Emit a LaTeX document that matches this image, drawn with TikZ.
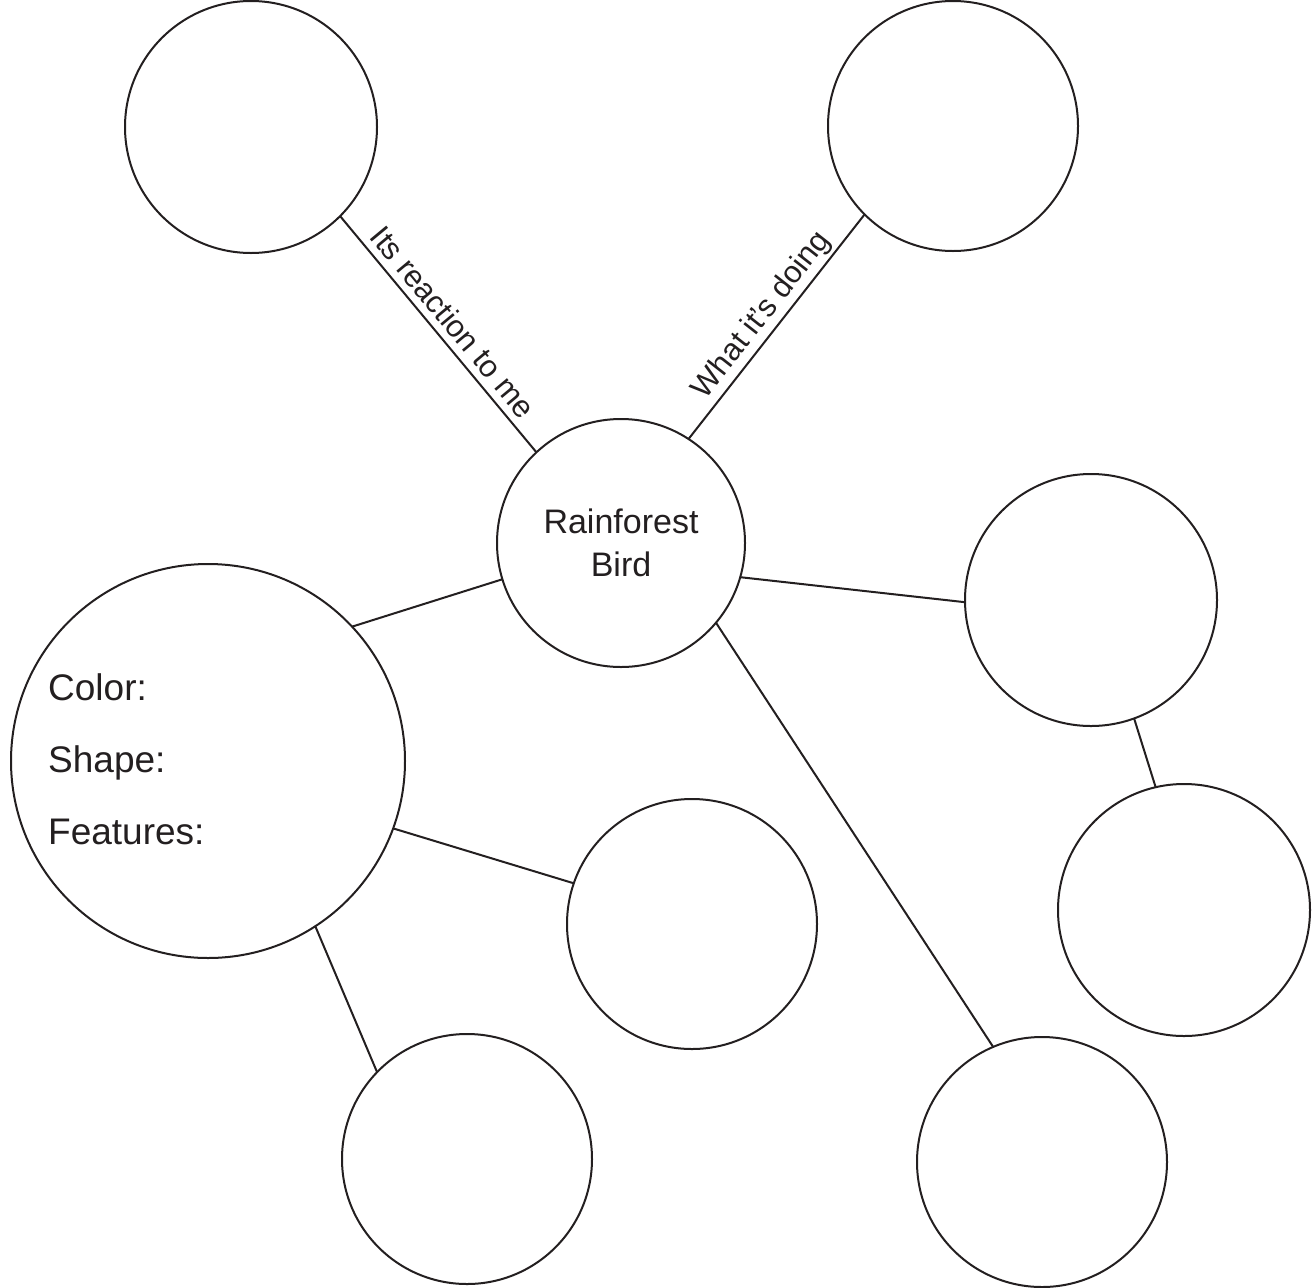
\documentclass[tikz,border=0pt]{standalone}
\usepackage{fontspec}
\setmainfont{Liberation Sans}
\definecolor{ink}{HTML}{231F20}
\begin{document}
\begin{tikzpicture}[x=1pt,y=-1pt,
  bubble/.style={circle,draw=ink,line width=2pt,inner sep=0pt,outer sep=0pt,minimum size=#1},
  link/.style={draw=ink,line width=2pt},
  lbl/.style={font=\fontsize{31}{38}\selectfont,text=ink,sloped,inner sep=3pt},
  bigtxt/.style={font=\fontsize{37}{44}\selectfont,text=ink,anchor=base west,inner sep=0pt}]
\useasboundingbox (0,0) rectangle (1315,1288);
\node[bubble=252pt] (tl) at (251,127) {};
\node[bubble=250pt] (tr) at (953,126) {};
\node[bubble=248pt,align=center,font=\fontsize{34}{43}\selectfont,text=ink] (c) at (621,543) {Rainforest\\Bird};
\node[bubble=252pt] (r) at (1091,600) {};
\node[bubble=394pt] (bl) at (208,761) {};
\node[bubble=250pt] (m) at (692,924) {};
\node[bubble=252pt] (rl) at (1184,910) {};
\node[bubble=250pt] (b1) at (467,1159) {};
\node[bubble=250pt] (b2) at (1042,1162) {};
\node[bigtxt] (color) at (48,700) {Color:};
\node[bigtxt] (shape) at (48,772) {Shape:};
\node[bigtxt] (feat) at (48,844) {Features:};
\draw[link] (tl.-45.3) -- node[lbl,above=4pt,pos=0.5] {Its reaction to me} (c.133.7);
\draw[link] (c.57.7) -- node[lbl,above,pos=0.5] {What it’s doing} (tr.-135);
\draw[link] (c.-163) -- (bl.43.6);
\draw[link] (c.-16.6) -- (r.181.7);
\draw[link] (r.-70.4) -- (rl.103.9);
\draw[link] (bl.-20.6) -- (m.161.7);
\draw[link] (bl.-57) -- (b1.136);
\draw[link] (c.-40) -- (b2.113.3);
\end{tikzpicture}
\end{document}
